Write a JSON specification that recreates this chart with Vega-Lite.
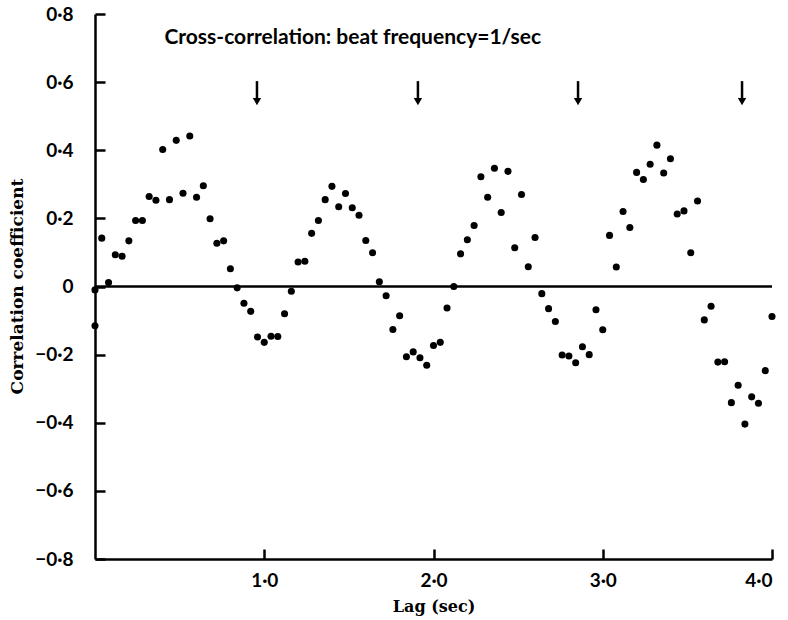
{
  "$schema": "https://vega.github.io/schema/vega-lite/v6.json",
  "autosize": "none",
  "width": 677,
  "height": 545,
  "padding": {"left": 95, "top": 14, "right": 16, "bottom": 61},
  "background": "white",
  "config": {"view": {"stroke": null}},
  "datasets": {
    "points": [
      {"lag": 0, "r": -0.01}, {"lag": 0, "r": -0.115},
      {"lag": 0.04, "r": 0.142}, {"lag": 0.08, "r": 0.012}, {"lag": 0.12, "r": 0.093}, {"lag": 0.16, "r": 0.089},
      {"lag": 0.2, "r": 0.134}, {"lag": 0.24, "r": 0.194}, {"lag": 0.28, "r": 0.194}, {"lag": 0.32, "r": 0.264},
      {"lag": 0.36, "r": 0.253}, {"lag": 0.4, "r": 0.402}, {"lag": 0.44, "r": 0.255}, {"lag": 0.48, "r": 0.429},
      {"lag": 0.52, "r": 0.274}, {"lag": 0.56, "r": 0.442}, {"lag": 0.6, "r": 0.262}, {"lag": 0.64, "r": 0.296},
      {"lag": 0.68, "r": 0.199}, {"lag": 0.72, "r": 0.127}, {"lag": 0.76, "r": 0.134}, {"lag": 0.8, "r": 0.052},
      {"lag": 0.84, "r": -0.004}, {"lag": 0.88, "r": -0.049}, {"lag": 0.92, "r": -0.073}, {"lag": 0.96, "r": -0.148},
      {"lag": 1.0, "r": -0.164}, {"lag": 1.04, "r": -0.146}, {"lag": 1.08, "r": -0.147}, {"lag": 1.12, "r": -0.08},
      {"lag": 1.16, "r": -0.014}, {"lag": 1.2, "r": 0.072}, {"lag": 1.24, "r": 0.074}, {"lag": 1.28, "r": 0.156},
      {"lag": 1.32, "r": 0.194}, {"lag": 1.36, "r": 0.255}, {"lag": 1.4, "r": 0.294}, {"lag": 1.44, "r": 0.234},
      {"lag": 1.48, "r": 0.273}, {"lag": 1.52, "r": 0.231}, {"lag": 1.56, "r": 0.209}, {"lag": 1.6, "r": 0.135},
      {"lag": 1.64, "r": 0.099}, {"lag": 1.68, "r": 0.014}, {"lag": 1.72, "r": -0.027}, {"lag": 1.76, "r": -0.126},
      {"lag": 1.8, "r": -0.086}, {"lag": 1.84, "r": -0.206}, {"lag": 1.88, "r": -0.192}, {"lag": 1.92, "r": -0.209},
      {"lag": 1.96, "r": -0.231}, {"lag": 2.0, "r": -0.173}, {"lag": 2.04, "r": -0.164}, {"lag": 2.08, "r": -0.063},
      {"lag": 2.12, "r": 0.0}, {"lag": 2.16, "r": 0.096}, {"lag": 2.2, "r": 0.137}, {"lag": 2.24, "r": 0.179},
      {"lag": 2.28, "r": 0.322}, {"lag": 2.32, "r": 0.262}, {"lag": 2.36, "r": 0.347}, {"lag": 2.4, "r": 0.217},
      {"lag": 2.44, "r": 0.338}, {"lag": 2.48, "r": 0.114}, {"lag": 2.52, "r": 0.27}, {"lag": 2.56, "r": 0.058},
      {"lag": 2.6, "r": 0.144}, {"lag": 2.64, "r": -0.021}, {"lag": 2.68, "r": -0.065}, {"lag": 2.72, "r": -0.103},
      {"lag": 2.76, "r": -0.201}, {"lag": 2.8, "r": -0.204}, {"lag": 2.84, "r": -0.224}, {"lag": 2.88, "r": -0.177},
      {"lag": 2.92, "r": -0.2}, {"lag": 2.96, "r": -0.068}, {"lag": 3.0, "r": -0.127}, {"lag": 3.04, "r": 0.15},
      {"lag": 3.08, "r": 0.057}, {"lag": 3.12, "r": 0.22}, {"lag": 3.16, "r": 0.173}, {"lag": 3.2, "r": 0.335},
      {"lag": 3.24, "r": 0.314}, {"lag": 3.28, "r": 0.359}, {"lag": 3.32, "r": 0.415}, {"lag": 3.36, "r": 0.333},
      {"lag": 3.4, "r": 0.375}, {"lag": 3.44, "r": 0.213}, {"lag": 3.48, "r": 0.222}, {"lag": 3.52, "r": 0.099},
      {"lag": 3.56, "r": 0.251}, {"lag": 3.6, "r": -0.098}, {"lag": 3.64, "r": -0.058}, {"lag": 3.68, "r": -0.222},
      {"lag": 3.72, "r": -0.221}, {"lag": 3.76, "r": -0.341}, {"lag": 3.8, "r": -0.29}, {"lag": 3.84, "r": -0.404},
      {"lag": 3.88, "r": -0.324}, {"lag": 3.92, "r": -0.343}, {"lag": 3.96, "r": -0.247}, {"lag": 4.0, "r": -0.088}
    ],
    "arrows": [{"lag": 0.957}, {"lag": 1.908}, {"lag": 2.854}, {"lag": 3.823}],
    "note": [{"text": "Cross-correlation: beat frequency=1/sec"}]
  },
  "layer": [
    {
      "data": {"name": "points"},
      "mark": {"type": "point", "filled": true, "color": "black", "opacity": 1, "size": 50},
      "encoding": {
        "x": {
          "field": "lag", "type": "quantitative",
          "scale": {"domain": [0, 4], "nice": false, "zero": false},
          "axis": {
            "values": [1, 2, 3, 4],
            "labelExpr": "replace(format(datum.value, '.1f'), '.', '·')",
            "grid": false,
            "domainColor": "black", "domainWidth": 2.5,
            "tickColor": "black", "tickWidth": 2.5, "tickSize": -10,
            "labelFont": "Lato", "labelFontWeight": "bold", "labelFontSize": 19, "labelColor": "black",
            "labelPadding": 22,
            "title": "Lag (sec)",
            "titleFont": "DejaVu Serif", "titleFontWeight": "bold", "titleFontSize": 16, "titleColor": "black",
            "titlePadding": 8
          }
        },
        "y": {
          "field": "r", "type": "quantitative",
          "scale": {"domain": [-0.8, 0.8], "nice": false, "zero": false},
          "axis": {
            "values": [-0.8, -0.6, -0.4, -0.2, 0, 0.2, 0.4, 0.6, 0.8],
            "labelExpr": "datum.value == 0 ? '0' : replace(format(datum.value, '.1f'), '.', '·')",
            "grid": false,
            "domainColor": "black", "domainWidth": 2.5,
            "tickColor": "black", "tickWidth": 2.5, "tickSize": -10,
            "labelFont": "Lato", "labelFontWeight": "bold", "labelFontSize": 19, "labelColor": "black",
            "labelPadding": 32,
            "title": "Correlation coefficient",
            "titleFont": "DejaVu Serif", "titleFontWeight": "bold", "titleFontSize": 17, "titleColor": "black",
            "titleX": -78, "titleY": 272, "titleAngle": -90, "titleAlign": "center", "titleBaseline": "middle"
          }
        }
      }
    },
    {
      "data": {"name": "note"},
      "mark": {"type": "rule", "color": "black", "strokeWidth": 2.5},
      "encoding": {"x": {"datum": 0}, "x2": {"datum": 4}, "y": {"datum": 0}}
    },
    {
      "data": {"name": "arrows"},
      "mark": {"type": "rule", "color": "black", "strokeWidth": 2.5},
      "encoding": {"x": {"field": "lag", "type": "quantitative"}, "y": {"datum": 0.603}, "y2": {"datum": 0.55}}
    },
    {
      "data": {"name": "arrows"},
      "mark": {"type": "point", "shape": "triangle-down", "filled": true, "color": "black", "opacity": 1, "size": 70},
      "encoding": {"x": {"field": "lag", "type": "quantitative"}, "y": {"datum": 0.543}}
    },
    {
      "data": {"name": "note"},
      "mark": {"type": "text", "align": "left", "baseline": "middle", "font": "Lato", "fontSize": 21, "fontWeight": "bold", "color": "black"},
      "encoding": {"x": {"datum": 0.41}, "y": {"datum": 0.73}, "text": {"field": "text"}}
    }
  ]
}
